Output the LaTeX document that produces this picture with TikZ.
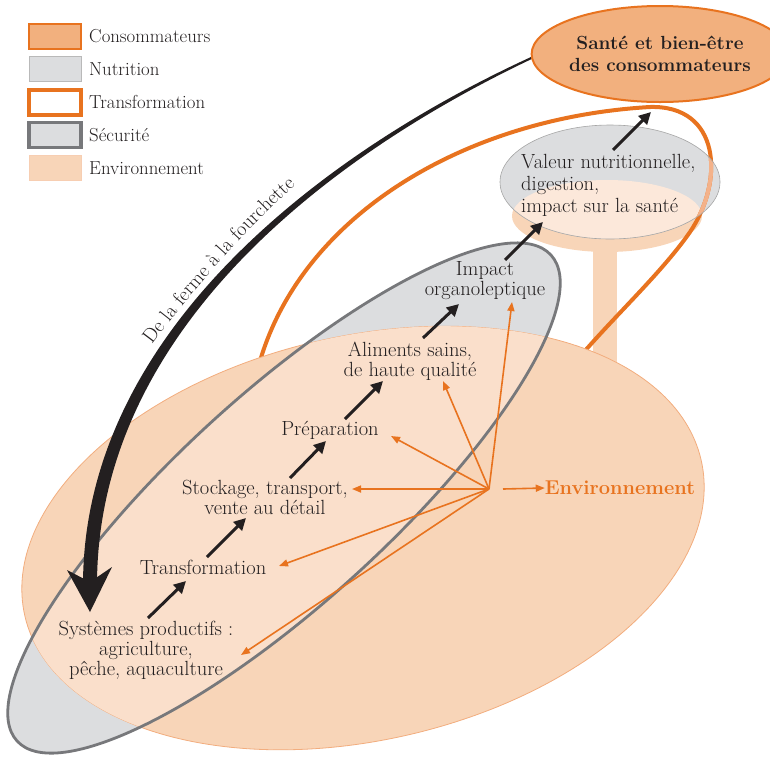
\documentclass[tikz,border=0pt]{standalone}
\usetikzlibrary{arrows.meta,decorations.text,shapes.geometric}
\definecolor{ink}{HTML}{231F20}
\definecolor{orng}{HTML}{E8731F}
\definecolor{sante}{HTML}{F2B07E}
\definecolor{peach}{HTML}{F8D5B8}
\definecolor{peachlt}{HTML}{FADFCB}
\definecolor{peachbd}{HTML}{F2AD7E}
\definecolor{grayfill}{HTML}{DCDDDF}
\definecolor{graybd}{HTML}{77787B}
\definecolor{cream}{HTML}{FCE8DA}
\definecolor{orngsoft}{HTML}{F4B28A}
\begin{document}
\begin{tikzpicture}
	[x=1pt, y=-1pt,
	lbl/.style={font=\fontsize{20.5}{20}\selectfont, text=ink, align=center, inner sep=0pt},
	leg/.style={font=\fontsize{18.8}{19}\selectfont, text=ink, anchor=west, inner sep=0pt},
	key/.style={minimum width=52pt, minimum height=25pt, inner sep=0pt},
	blk/.style={ink, line width=3pt, -{Triangle[length=12pt,width=12pt]}},
	ora/.style={orng, line width=1.6pt, -{Triangle[length=9pt,width=7pt]}}]
	\useasboundingbox (0,0) rectangle (770,756);

	% plateau under the nutrition ellipse
	\fill[peach] (593,240) rectangle (617,380);
	\fill[peach] (607,216) ellipse [x radius=95, y radius=36];
	\fill[grayfill] (610,182) ellipse [x radius=110, y radius=57];
	\begin{scope}
		\clip (607,216) ellipse [x radius=95, y radius=36];
		\fill[cream] (610,182) ellipse [x radius=110, y radius=57];
	\end{scope}

	% transformation loop
	\draw[orng, line width=4pt] (257,372) .. controls (295,220) and (460,118) .. (650,107) .. controls (720,105) and (725,180) .. (690,232) .. controls (660,275) and (610,320) .. (572,366);
	\begin{scope}
		\clip (610,182) ellipse [x radius=110, y radius=57];
		\draw[orngsoft, line width=4pt] (257,372) .. controls (295,220) and (460,118) .. (650,107) .. controls (720,105) and (725,180) .. (690,232) .. controls (660,275) and (610,320) .. (572,366);
	\end{scope}
	\draw[gray!70, line width=0.6pt] (610,182) ellipse [x radius=110, y radius=57];

	% security and environment
	\fill[grayfill, rotate around={42.3:(284,498)}] (284,498) ellipse [x radius=361, y radius=105];
	\filldraw[fill=peach, draw=peachbd, line width=0.8pt, rotate around={13:(363,538)}] (363,538) ellipse [x radius=347, y radius=202];
	\begin{scope}
		\clip[rotate around={42.3:(284,498)}] (284,498) ellipse [x radius=361, y radius=105];
		\fill[peachlt, rotate around={13:(363,538)}] (363,538) ellipse [x radius=347, y radius=202];
	\end{scope}
	\draw[graybd, line width=2.8pt, rotate around={42.3:(284,498)}] (284,498) ellipse [x radius=361, y radius=105];

	% farm to fork arrow
	\fill[ink] (539.6,53.1) .. controls (329,147.7) and (83,330) .. (83,585) -- (97,585) .. controls (97,330) and (331,152.3) .. (540.4,54.9) -- cycle;
	\fill[ink] (67,570) -- (90,612) -- (112,567) -- (90,582) -- cycle;
	\path[decorate, decoration={text along path, text align=center,
		text={|\fontsize{20}{20}\selectfont\color{ink}|De la ferme à la fourchette}}]
		(109,408) .. controls (160,323) and (271,194) .. (355,137);

	\node[ellipse, draw=orng, fill=sante, line width=2pt, minimum width=218pt, minimum height=96pt, inner sep=0pt,
		font=\bfseries\fontsize{19}{22}\selectfont, align=center, text=ink] (sante) at (660,54) {Santé et bien-être\\des consommateurs};

	\node[lbl] (sys) at (146,650) {Systèmes productifs :\\agriculture,\\pêche, aquaculture};
	\node[lbl] (trans) at (203,567) {Transformation};
	\node[lbl] (stock) at (265,497) {Stockage, transport,\\vente au détail};
	\node[lbl] (prep) at (330,430) {Préparation};
	\node[lbl] (alim) at (410,361) {Aliments sains,\\de haute qualité};
	\node[lbl] (impact) at (485,281) {Impact\\organoleptique};
	\node[lbl, align=left, anchor=west, font=\fontsize{20.5}{22}\selectfont] (val) at (521,185) {Valeur nutritionnelle,\\digestion,\\impact sur la santé};
	\node[lbl, font=\bfseries\fontsize{20}{20}\selectfont, text=orng] (envt) at (620,488) {Environnement};

	\coordinate (a1) at (148,618);
	\coordinate (b1) at (186,581);
	\coordinate (a2) at (207,557);
	\coordinate (b2) at (246,518);
	\coordinate (a3) at (290,478);
	\coordinate (b3) at (326,441);
	\coordinate (a4) at (345,419);
	\coordinate (b4) at (383,381);
	\coordinate (a5) at (423,338);
	\coordinate (b5) at (459,304);
	\coordinate (a6) at (505,260);
	\coordinate (b6) at (543,222);
	\coordinate (a7) at (613,150);
	\coordinate (b7) at (651,112);
	\draw[blk] (a1) -- (b1);
	\draw[blk] (a2) -- (b2);
	\draw[blk] (a3) -- (b3);
	\draw[blk] (a4) -- (b4);
	\draw[blk] (a5) -- (b5);
	\draw[blk] (a6) -- (b6);
	\draw[blk] (a7) -- (b7);

	\coordinate (hub) at (489,489);
	\coordinate (e0) at (503,489);
	\coordinate (e1) at (352,489);
	\coordinate (e2) at (391,436);
	\coordinate (e3) at (443,381);
	\coordinate (e4) at (512,302);
	\coordinate (e5) at (279,566);
	\coordinate (e6) at (241,655);
	\draw[ora] (e0) -- (envt.west);
	\draw[ora] (hub) -- (e1);
	\draw[ora] (hub) -- (e2);
	\draw[ora] (hub) -- (e3);
	\draw[ora] (hub) -- (e4);
	\draw[ora] (hub) -- (e5);
	\draw[ora] (hub) -- (e6);

	% legend
	\node[key, fill=sante, draw=orng, line width=2pt] (k1) at (55,36) {};
	\node[key, fill=grayfill, draw=gray!55, line width=1pt] (k2) at (55,69) {};
	\node[key, fill=white, draw=orng, line width=4pt] (k3) at (55,102) {};
	\node[key, fill=grayfill, draw=graybd, line width=3.5pt] (k4) at (55,135) {};
	\node[key, fill=peach, draw=peachbd!60, line width=1pt] (k5) at (55,168) {};
	\node[leg] (l1) at (89,36) {Consommateurs};
	\node[leg] (l2) at (89,69) {Nutrition};
	\node[leg] (l3) at (89,102) {Transformation};
	\node[leg] (l4) at (89,135) {Sécurité};
	\node[leg] (l5) at (89,168) {Environnement};
\end{tikzpicture}
\end{document}
